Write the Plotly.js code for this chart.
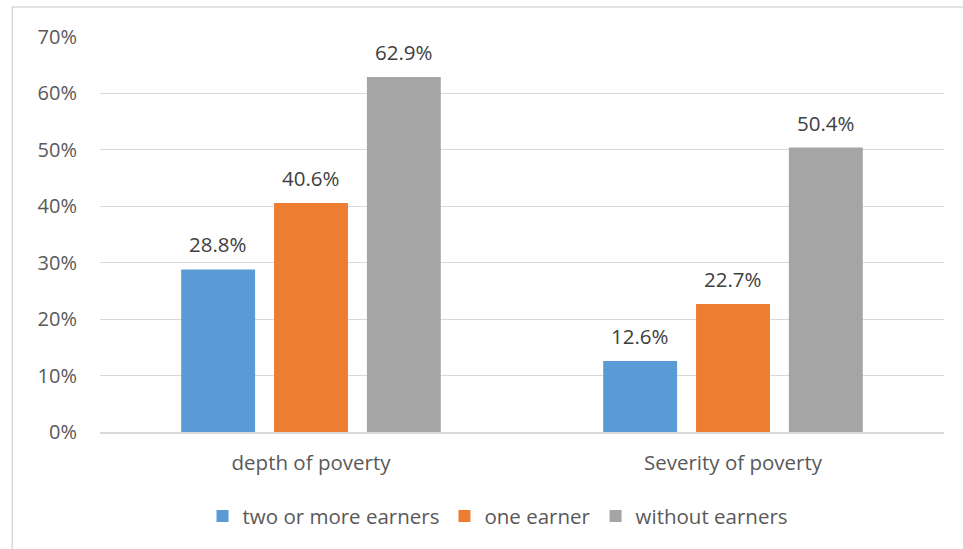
<!DOCTYPE html>
<html>
<head>
<meta charset="utf-8">
<script src="https://cdn.plot.ly/plotly-3.0.1.min.js"></script>
<style>html,body{margin:0;padding:0;background:#fff;}#chart{width:963px;height:549px;}</style>
</head>
<body>
<div id="chart"></div>
<script>
var categories = ["depth of poverty", "Severity of poverty"];
var seriesNames = ["two or more earners", "one earner", "without earners"];
var twoOrMore = [0.288, 0.126];
var oneEarner = [0.406, 0.227];
var withoutEarners = [0.629, 0.504];
var yTicks = [0, 0.1, 0.2, 0.3, 0.4, 0.5, 0.6, 0.7];
var colors = ["#5B9BD5", "#ED7D31", "#A5A5A5"];

var FONT = "Open Sans, Noto Sans, sans-serif";
var seriesValues = [twoOrMore, oneEarner, withoutEarners];
var traces = seriesValues.map(function (vals, i) {
  return {
    type: "bar",
    name: seriesNames[i],
    x: categories,
    y: vals,
    marker: {color: colors[i]},
    hoverinfo: "x+y"
  };
});

var layout = {
  width: 963,
  height: 549,
  margin: {l: 100, r: 19, t: 37, b: 117},
  paper_bgcolor: "#ffffff",
  plot_bgcolor: "#ffffff",
  barmode: "group",
  bargap: 0.34,
  bargroupgap: 0.204,
  font: {family: FONT, color: "#595959", size: 20},
  showlegend: true,
  legend: {
    orientation: "h",
    x: 0.4716, xanchor: "center",
    y: -0.213, yanchor: "middle",
    font: {size: 20.5, color: "#595959"},
    itemwidth: 30,
    traceorder: "normal"
  },
  xaxis: {
    type: "category",
    showgrid: false,
    showline: true,
    linecolor: "#d9d9d9",
    linewidth: 1.5,
    ticks: "",
    ticklabelstandoff: 12,
    tickfont: {size: 20.5, color: "#595959"},
    fixedrange: true
  },
  yaxis: {
    range: [0, 0.7],
    tickvals: yTicks,
    tickformat: ".0%",
    showgrid: true,
    gridcolor: "#d9d9d9",
    gridwidth: 1,
    zeroline: false,
    showline: false,
    ticks: "",
    ticklabelstandoff: 22,
    tickfont: {size: 20, color: "#595959"},
    fixedrange: true
  },
  shapes: [{
    type: "rect", xref: "paper", yref: "paper",
    x0: -0.104, x1: 1.2, y0: -0.5, y1: 1.076,
    line: {color: "#d9d9d9", width: 1.5},
    fillcolor: "rgba(0,0,0,0)",
    layer: "below"
  }]
};

var gd = document.getElementById("chart");
Plotly.newPlot(gd, traces, layout, {displayModeBar: false, staticPlot: true}).then(function () {
  // place value labels at the bar centres computed by Plotly itself
  var anns = [];
  gd.calcdata.forEach(function (cd, i) {
    var t = cd[0].t || {};
    cd.forEach(function (pt, j) {
      var off = Array.isArray(t.poffset) ? t.poffset[j] : t.poffset;
      var bw = Array.isArray(t.barwidth) ? t.barwidth[j] : t.barwidth;
      var xc = (off !== undefined && bw !== undefined) ? pt.p + off + bw / 2 : pt.x;
      var v = seriesValues[i][j];
      anns.push({
        xref: "x", yref: "y",
        x: xc, y: v,
        text: (v * 100).toFixed(1) + "%",
        showarrow: false,
        yanchor: "middle",
        yshift: 25,
        font: {family: FONT, size: 20.5, color: "#404040"}
      });
    });
  });
  return Plotly.relayout(gd, {annotations: anns});
});
</script>
</body>
</html>
